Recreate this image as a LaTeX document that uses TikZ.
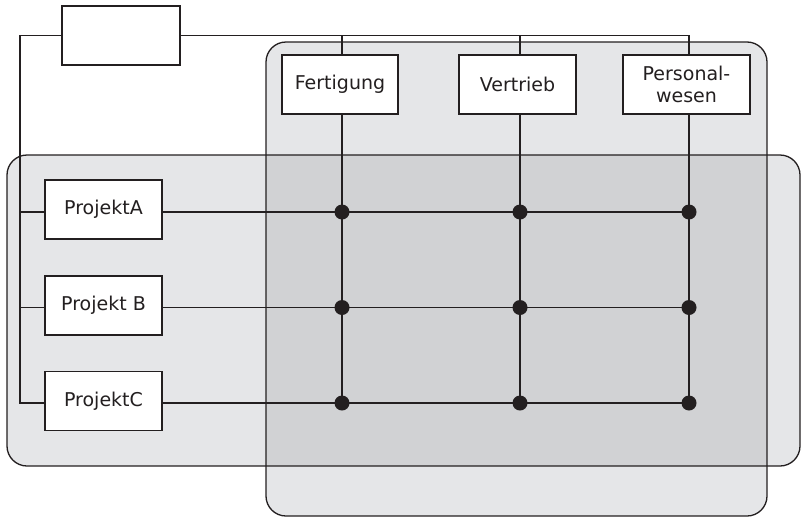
\documentclass[tikz,border=0pt]{standalone}
\usepackage{fontspec}
\setmainfont{DejaVu Sans}
\definecolor{ink}{HTML}{231F20}
\definecolor{lightbg}{HTML}{E5E6E8}
\definecolor{darkbg}{HTML}{D1D2D4}
\begin{document}
\begin{tikzpicture}[x=1pt,y=-1pt,
  line width=1.2pt, draw=ink,
  box/.style={draw=ink, fill=white, line width=1.3pt, minimum width=#1, minimum height=59pt, inner sep=0pt, align=center,
    font=\fontsize{19}{22}\selectfont, text=ink},
  box/.default=117pt,
  conn/.style={draw=ink, line width=1.2pt},
  dot/.style={fill=ink},
  panel/.style={draw=ink, line width=1.3pt, rounded corners=20pt}]
\useasboundingbox (0,0) rectangle (801,517);
% panels
\fill[lightbg, rounded corners=20pt] (266,42) rectangle (767,516);
\fill[lightbg, rounded corners=20pt] (7,155) rectangle (800,466);
\fill[darkbg] (266,155) rectangle (767,466);
\draw[panel] (266,42) rectangle (767,516);
\draw[panel] (7,155) rectangle (800,466);
% coordinates
\coordinate (d11) at (342,212); \coordinate (d12) at (520,212); \coordinate (d13) at (689,212);
\coordinate (d21) at (342,307.5); \coordinate (d22) at (520,307.5); \coordinate (d23) at (689,307.5);
\coordinate (d31) at (342,403); \coordinate (d32) at (520,403); \coordinate (d33) at (689,403);
\coordinate (t1) at (342,35.5); \coordinate (t2) at (520,35.5); \coordinate (t3) at (689,35.5);
\coordinate (L) at (20,35.5);
% nodes
\node[box=118pt] (top) at (121,35.5) {};
\node[box=116pt] (fert) at (340,84.5) {Fertigung};
\node[box=117pt] (vert) at (517.5,84.5) {Vertrieb};
\node[box=127pt] (pers) at (686.5,84.5) {Personal-\\wesen};
\node[box=117pt] (pa) at (103.5,209.5) {ProjektA};
\node[box=117pt] (pb) at (103.5,305.5) {Projekt B};
\node[box=117pt] (pc) at (103.5,401) {ProjektC};
% top connectors
\draw[conn] (top.east) -- (t3) -- (t3 |- pers.north);
\draw[conn] (t1) -- (t1 |- fert.north);
\draw[conn] (t2) -- (t2 |- vert.north);
\draw[conn] (top.west) -- (L) -- (L |- d31) -- (d31 -| pc.west);
\draw[conn] (L |- d11) -- (d11 -| pa.west);
\draw[conn] (L |- d21) -- (d21 -| pb.west);
% grid
\draw[conn] (d11 -| pa.east) -- (d13);
\draw[conn] (d21 -| pb.east) -- (d23);
\draw[conn] (d31 -| pc.east) -- (d33);
\draw[conn] (d11 |- fert.south) -- (d31);
\draw[conn] (d12 |- vert.south) -- (d32);
\draw[conn] (d13 |- pers.south) -- (d33);
\foreach \d in {d11,d12,d13,d21,d22,d23,d31,d32,d33}
  \fill[dot] (\d) circle (7.5pt);
\end{tikzpicture}
\end{document}
